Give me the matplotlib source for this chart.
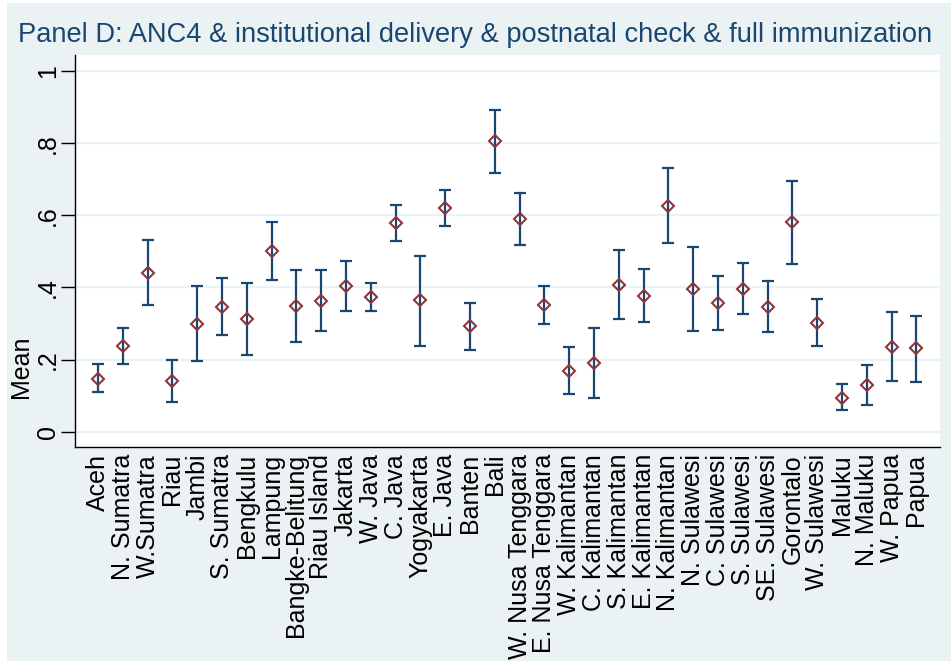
import numpy as np
import matplotlib
matplotlib.use("Agg")
import matplotlib.pyplot as plt
from matplotlib.patches import Rectangle

# provinces, mean and 95% CI bounds
provinces = ["Aceh", "N. Sumatra", "W.Sumatra", "Riau", "Jambi", "S. Sumatra",
             "Bengkulu", "Lampung", "Bangke-Belitung", "Riau Island", "Jakarta",
             "W. Java", "C. Java", "Yogyakarta", "E. Java", "Banten", "Bali",
             "W. Nusa Tenggara", "E. Nusa Tenggara", "W. Kalimantan",
             "C. Kalimantan", "S. Kalimantan", "E. Kalimantan", "N. Kalimantan",
             "N. Sulawesi", "C. Sulawesi", "S. Sulawesi", "SE. Sulawesi",
             "Gorontalo", "W. Sulawesi", "Maluku", "N. Maluku", "W. Papua", "Papua"]
mean = [0.146, 0.237, 0.441, 0.140, 0.299, 0.345, 0.312, 0.501, 0.348, 0.363,
        0.405, 0.374, 0.579, 0.364, 0.620, 0.292, 0.805, 0.589, 0.352, 0.169,
        0.190, 0.407, 0.377, 0.626, 0.395, 0.357, 0.396, 0.346, 0.581, 0.302,
        0.095, 0.130, 0.236, 0.231]
ci_lo = [0.109, 0.189, 0.351, 0.083, 0.195, 0.267, 0.214, 0.420, 0.248, 0.280,
         0.335, 0.336, 0.530, 0.239, 0.570, 0.228, 0.717, 0.517, 0.300, 0.105,
         0.094, 0.312, 0.303, 0.523, 0.278, 0.281, 0.326, 0.277, 0.466, 0.237,
         0.060, 0.073, 0.140, 0.139]
ci_hi = [0.187, 0.287, 0.531, 0.198, 0.405, 0.426, 0.411, 0.582, 0.449, 0.447,
         0.474, 0.413, 0.628, 0.487, 0.669, 0.357, 0.892, 0.662, 0.404, 0.234,
         0.287, 0.504, 0.451, 0.730, 0.513, 0.433, 0.469, 0.417, 0.695, 0.368,
         0.132, 0.185, 0.331, 0.320]
yticks = [0, 0.2, 0.4, 0.6, 0.8, 1.0]
ytick_labels = ["0", ".2", ".4", ".6", ".8", "1"]

bg = "#EAF2F3"
navy = "#1A476F"
red = "#90353B"

plt.rcParams['font.family'] = ['Liberation Sans', 'DejaVu Sans']

fig = plt.figure(figsize=(9.51, 6.61), dpi=100, facecolor="white")
fig.patches.append(Rectangle((7 / 951, 0), 1, 1 - 3 / 661, transform=fig.transFigure,
                             facecolor=bg, edgecolor="none", zorder=-10))
ax = fig.add_axes([75 / 951, 1 - 447 / 661, 865 / 951, 392 / 661])
ax.set_facecolor("white")

x = np.arange(len(provinces))
m = np.array(mean)
lo = np.array(ci_lo)
hi = np.array(ci_hi)

ax.errorbar(x, m, yerr=[m - lo, hi - m], fmt="none", ecolor=navy,
            elinewidth=1.6, capsize=4.5, capthick=1.6, zorder=3)
ax.plot(x, m, linestyle="none", marker="D", markersize=6.2, markerfacecolor="none",
        markeredgecolor=red, markeredgewidth=1.5, zorder=4)

ax.set_xlim(-0.93, 33.95)
ax.set_ylim(-0.042, 1.044)
ax.set_yticks(yticks)
ax.set_yticklabels(ytick_labels, rotation=90, va="center", fontsize=18)
ax.set_xticks(x)
ax.set_xticklabels(provinces, rotation=90, fontsize=18)
ax.tick_params(axis="x", length=0, pad=5)
ax.tick_params(axis="y", length=10, width=1, pad=1)
ax.grid(axis="y", color=bg, linewidth=1.6)
ax.set_axisbelow(True)
for s in ["top", "right"]:
    ax.spines[s].set_visible(False)
ax.spines["left"].set_linewidth(1)
ax.spines["bottom"].set_linewidth(1)
ax.set_ylabel("Mean", fontsize=18)
ax.yaxis.set_label_coords(-0.049, 0.204)

fig.text(0.5, 1 - 35 / 661, "Panel D: ANC4 & institutional delivery & postnatal check & full immunization",
         ha="center", va="center", color=navy, fontsize=19.6)

fig.savefig("out.png", dpi=100, facecolor=fig.get_facecolor())
